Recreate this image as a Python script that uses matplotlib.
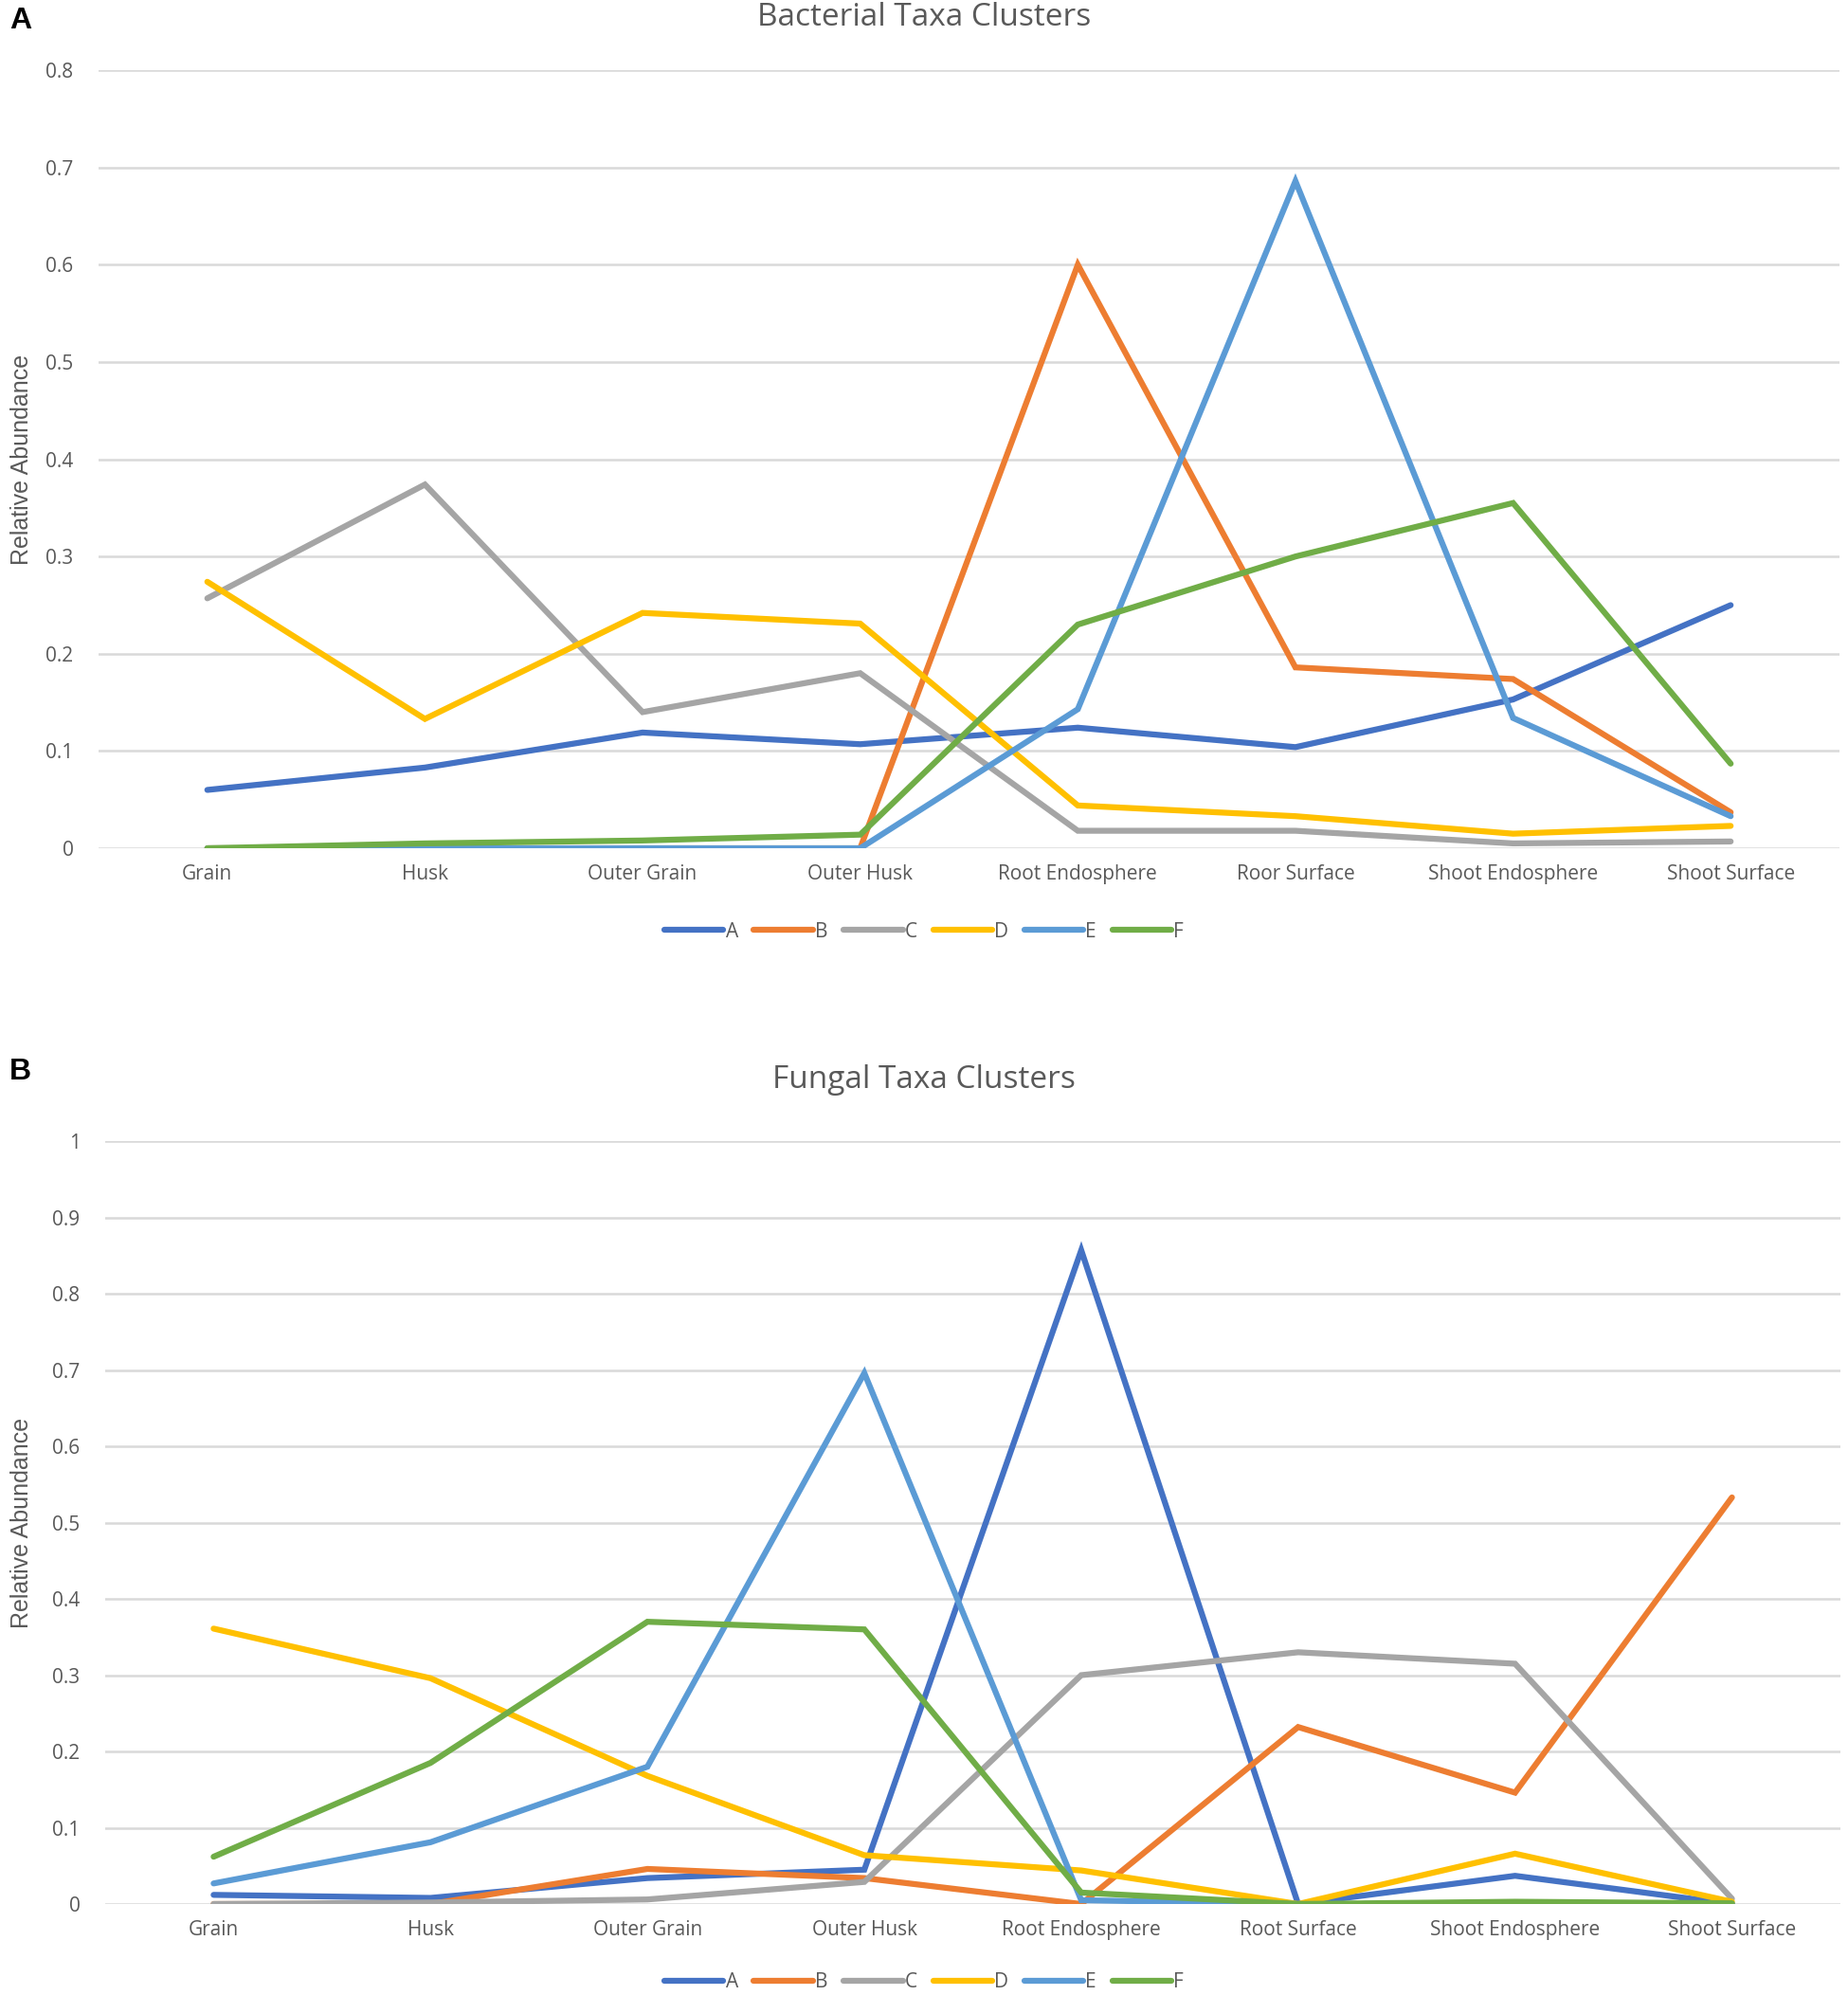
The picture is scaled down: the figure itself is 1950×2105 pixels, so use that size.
import matplotlib
matplotlib.use("Agg")
import matplotlib.pyplot as plt
import numpy as np

# ---- data ----
bact_sites = ['Grain', 'Husk', 'Outer Grain', 'Outer Husk', 'Root Endosphere',
              'Roor Surface', 'Shoot Endosphere', 'Shoot Surface']
fung_sites = ['Grain', 'Husk', 'Outer Grain', 'Outer Husk', 'Root Endosphere',
              'Root Surface', 'Shoot Endosphere', 'Shoot Surface']
cluster_names = ['A', 'B', 'C', 'D', 'E', 'F']

bact_A = [0.060, 0.083, 0.119, 0.107, 0.124, 0.104, 0.153, 0.250]
bact_B = [0.000, 0.000, 0.000, 0.000, 0.600, 0.186, 0.174, 0.037]
bact_C = [0.257, 0.374, 0.140, 0.180, 0.018, 0.018, 0.005, 0.007]
bact_D = [0.274, 0.133, 0.242, 0.231, 0.044, 0.033, 0.015, 0.023]
bact_E = [0.000, 0.000, 0.000, 0.000, 0.143, 0.686, 0.134, 0.033]
bact_F = [0.000, 0.005, 0.008, 0.014, 0.230, 0.300, 0.355, 0.087]

fung_A = [0.012, 0.008, 0.034, 0.045, 0.857, 0.000, 0.037, 0.000]
fung_B = [0.000, 0.000, 0.046, 0.034, 0.000, 0.232, 0.146, 0.533]
fung_C = [0.000, 0.002, 0.006, 0.029, 0.300, 0.330, 0.315, 0.007]
fung_D = [0.361, 0.296, 0.168, 0.064, 0.044, 0.000, 0.066, 0.003]
fung_E = [0.027, 0.081, 0.180, 0.696, 0.005, 0.000, 0.000, 0.000]
fung_F = [0.062, 0.185, 0.370, 0.360, 0.015, 0.000, 0.003, 0.001]

colors = ['#4472C4', '#ED7D31', '#A5A5A5', '#FFC000', '#5B9BD5', '#70AD47']
TXT = '#595959'
FONT = ['Open Sans', 'DejaVu Sans']
ARIAL = ['Liberation Sans', 'DejaVu Sans']

fig = plt.figure(figsize=(19.5, 21.05), dpi=100)


def draw_panel(rect, sites, series, ymax, title, title_y, legend_y, label, label_y, ylab_x):
    ax = fig.add_axes(rect)
    x = np.arange(len(sites))
    lines = []
    for vals, c, name in zip(series, colors, cluster_names):
        ln, = ax.plot(x, vals, color=c, lw=4.5, label=name,
                      solid_joinstyle='miter', solid_capstyle='round', zorder=3)
        lines.append(ln)
    ax.set_xlim(-0.5, len(sites) - 0.5)
    ax.set_ylim(0, ymax)
    yt = np.round(np.arange(0, ymax + 0.001, 0.1), 1)
    ax.set_yticks(yt)
    ax.set_yticklabels([f'{v:g}' for v in yt])
    ax.set_xticks(x)
    ax.set_xticklabels(sites)
    ax.grid(axis='y', color='#D9D9D9', lw=1.8, zorder=0)
    ax.set_axisbelow(True)
    for s in ax.spines.values():
        s.set_visible(False)
    ax.tick_params(axis='both', length=0, labelsize=15, labelcolor=TXT)
    ax.tick_params(axis='x', pad=12)
    ax.tick_params(axis='y', pad=19)
    for t in ax.get_xticklabels() + ax.get_yticklabels():
        t.set_family(FONT)
    ax.set_ylabel('Relative Abundance', fontsize=18, color=TXT, family=ARIAL)
    ax.yaxis.set_label_coords(ylab_x, 0.5)
    fig.text(0.5, title_y, title, ha='center', va='center', fontsize=24,
             color=TXT, family=FONT)
    fig.text(0.005, label_y, label, ha='left', va='center', fontsize=23,
             fontweight='bold', family=ARIAL)
    leg = fig.legend(handles=lines, loc='center', bbox_to_anchor=(0.5, legend_y),
                     ncol=6, frameon=False, handlelength=3.0,
                     handletextpad=0.1, columnspacing=0.8,
                     prop={'family': FONT, 'size': 15})
    for h in leg.legend_handles:
        h.set_solid_capstyle('round')
        h.set_linewidth(4.5)
    for t in leg.get_texts():
        t.set_color(TXT)
    return ax


draw_panel([0.0533, 0.5748, 0.9421, 0.39], bact_sites,
           [bact_A, bact_B, bact_C, bact_D, bact_E, bact_F], 0.8,
           'Bacterial Taxa Clusters', 0.991, 0.533, 'A', 0.9895, -0.0376)
draw_panel([0.0569, 0.0456, 0.939, 0.3824], fung_sites,
           [fung_A, fung_B, fung_C, fung_D, fung_E, fung_F], 1.0,
           'Fungal Taxa Clusters', 0.4585, 0.0065, 'B', 0.4627, -0.0415)

fig.savefig('out.png', dpi=100, facecolor='white')
